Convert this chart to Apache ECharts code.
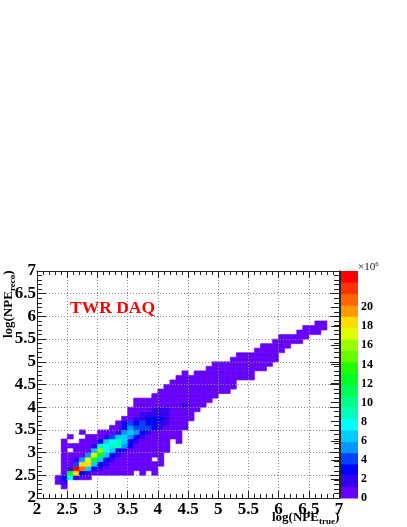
<!DOCTYPE html>
<html>
<head>
<meta charset="utf-8">
<title>TWR DAQ</title>
<script src="https://cdn.jsdelivr.net/npm/echarts@6/dist/echarts.min.js"></script>
<style>
  html, body { margin: 0; padding: 0; background: #fff; }
  #main { width: 407px; height: 527px; }
</style>
</head>
<body>
<div id="main"></div>
<script>
// occupied bins: reco bin, first and last true bin (0.1 wide bins starting at log = 2)
var lowReco = [2, 3, 4, 5, 5, 5, 6, 7, 8, 8, 9, 10, 10, 11, 12, 12, 12, 13, 13, 14, 14, 15, 16, 17, 18, 19, 20, 21, 22, 23, 24, 25, 26, 27, 27, 28, 29, 30, 31, 32, 33, 34, 35, 36, 37, 38];
var lowFrom = [4, 3, 3, 4, 17, 19, 4, 4, 4, 20, 4, 4, 6, 4, 4, 7, 23, 5, 8, 7, 10, 12, 13, 14, 15, 15, 16, 16, 19, 20, 21, 22, 23, 24, 26, 28, 29, 32, 33, 36, 37, 39, 40, 43, 44, 46];
var lowTo = [4, 4, 8, 15, 17, 19, 19, 20, 18, 20, 20, 4, 21, 21, 4, 21, 23, 5, 23, 7, 23, 24, 24, 25, 25, 26, 27, 28, 29, 31, 32, 32, 35, 24, 35, 37, 38, 39, 39, 40, 41, 43, 44, 46, 47, 47];
var lowValue = 0.4;

// bins above the floor, in millions of entries
var hotReco = [3, 4, 5, 6, 7, 8, 9, 10, 11, 12, 13, 14, 15, 16, 17, 18, 19, 20];
var hotStart = [3, 4, 5, 5, 6, 6, 8, 9, 9, 10, 11, 13, 14, 14, 16, 17, 19, 24];
var hotValues = [
  [0.8, 1.5],
  [3.5, 8, 1.5],
  [12.5, 18, 3, 1.5],
  [1.5, 23, 20.8, 6.5, 3, 1.5],
  [4, 18, 18, 6.5, 3, 1.5],
  [1.5, 5.5, 17, 12.5, 6.5, 3, 2],
  [5.5, 17, 12.5, 7, 3, 1.5],
  [7, 15.5, 8, 6, 3, 1.5],
  [2, 9, 8, 9, 9, 5, 3],
  [3, 6.5, 8, 9.5, 6, 3, 1.5],
  [1.5, 4, 6.5, 7, 5, 3, 1.5],
  [1.5, 5, 7, 5, 3, 1.5],
  [3, 5, 4, 4, 4, 3, 1.5],
  [3, 4, 3, 4, 3, 3, 2, 2],
  [1.5, 1.5, 3, 3, 3, 1.5],
  [1.5, 1.5, 1.5, 1.5, 1.5],
  [1.5, 1.5, 1.5],
  [1.8]
];

var zTicks = [0, 2, 4, 6, 8, 10, 12, 14, 16, 18, 20, 22];
var zMax = 23.8;
var palette = ['#6600ff', '#3300ee', '#0000ff', '#0044ff', '#0099ff', '#00ccff', '#00ffff', '#00ffbb', '#00ff88', '#00ff55',
  '#00ff22', '#22ff00', '#66ff00', '#99ff00', '#ddff00', '#ffdd00', '#ff9900', '#ff6600', '#ff3300', '#ff0000'];

var binSize = 0.1;
var cells = {};

function binEdge(bin) {
  return (20 + bin) / 10;
}

lowReco.forEach(function (j, k) {
  for (var i = lowFrom[k]; i <= lowTo[k]; i++) {
    cells[i + '_' + j] = [binEdge(i), binEdge(j), lowValue];
  }
});
hotReco.forEach(function (j, k) {
  hotValues[k].forEach(function (v, n) {
    var i = hotStart[k] + n;
    cells[i + '_' + j] = [binEdge(i), binEdge(j), v];
  });
});

function bandColor(v) {
  var idx = Math.floor(v / zMax * palette.length);
  return palette[Math.min(idx, palette.length - 1)];
}

var serif = '"Liberation Serif", "Times New Roman", serif';

function renderCell(params, api) {
  var x = api.value(0);
  var y = api.value(1);
  var p0 = api.coord([x, y]);
  var p1 = api.coord([x + binSize, y + binSize]);
  var c = bandColor(api.value(2));
  return {
    type: 'rect',
    shape: { x: p0[0], y: p1[1], width: p1[0] - p0[0], height: p0[1] - p1[1] },
    // thin stroke so neighbouring cells do not leave seams
    style: { fill: c, stroke: c, lineWidth: 0.6 }
  };
}

function renderBand(params, api) {
  var p0 = api.coord([0, api.value(0)]);
  var p1 = api.coord([1, api.value(1)]);
  return {
    type: 'rect',
    shape: { x: p0[0], y: p1[1], width: p1[0] - p0[0], height: p0[1] - p1[1] + 0.5 },
    style: { fill: api.value(2) }
  };
}

var bandData = palette.map(function (c, k) {
  return [k * zMax / palette.length, (k + 1) * zMax / palette.length, c];
});

var dotted = { show: true, lineStyle: { color: '#888', type: [1, 2], width: 1 } };
var darkLine = { show: true, onZero: false, lineStyle: { color: '#222', width: 1 } };

function plotAxis(position, isLabelled, tickLen, minorLen) {
  return {
    type: 'value',
    position: position,
    min: 2,
    max: 7,
    interval: 0.5,
    z: 6,
    axisLine: darkLine,
    axisTick: { show: true, inside: true, length: tickLen, lineStyle: { color: '#222' } },
    minorTick: { show: true, splitNumber: 5, length: minorLen, lineStyle: { color: '#222' } },
    splitLine: isLabelled ? dotted : { show: false },
    axisLabel: {
      show: isLabelled,
      margin: position === 'left' ? 1 : 3,
      color: '#000',
      fontFamily: serif,
      fontWeight: 'bold',
      fontSize: 17,
      hideOverlap: false,
      formatter: function (v) { return String(v); }
    }
  };
}

var chart = echarts.init(document.getElementById('main'), null, { renderer: 'canvas' });

var option = {
  backgroundColor: '#fff',
  animation: false,
  grid: [
    { left: 37, top: 271, width: 302, height: 227 },
    { left: 340, top: 271, width: 18, height: 227 }
  ],
  xAxis: [
    plotAxis('bottom', true, 7, 4),
    plotAxis('top', false, 7, 4),
    { type: 'value', gridIndex: 1, min: 0, max: 1, show: false }
  ],
  yAxis: [
    plotAxis('left', true, 9, 5),
    plotAxis('right', false, 9, 5),
    {
      type: 'value',
      gridIndex: 1,
      position: 'right',
      min: 0,
      max: zMax,
      interval: 2,
      z: 6,
      splitLine: { show: false },
      axisLine: { show: true, lineStyle: { color: '#222', width: 1 } },
      axisTick: { show: true, inside: true, length: 9, lineStyle: { color: '#222' } },
      axisLabel: {
        margin: 3,
        color: '#000',
        fontFamily: serif,
        fontWeight: 'bold',
        fontSize: 12,
        showMaxLabel: false,
        customValues: zTicks
      }
    }
  ],
  series: [
    {
      type: 'custom',
      name: 'counts',
      xAxisIndex: 0,
      yAxisIndex: 0,
      z: 2,
      silent: true,
      renderItem: renderCell,
      encode: { x: 0, y: 1 },
      data: Object.keys(cells).map(function (k) { return cells[k]; })
    },
    {
      type: 'custom',
      name: 'palette',
      xAxisIndex: 2,
      yAxisIndex: 2,
      z: 2,
      silent: true,
      renderItem: renderBand,
      data: bandData
    }
  ],
  graphic: [
    {
      type: 'text',
      left: 70,
      top: 299,
      z: 10,
      style: { text: 'TWR DAQ', fill: '#ff0000', font: 'bold 17.5px ' + serif }
    },
    {
      type: 'text',
      x: 272,
      y: 510,
      z: 10,
      style: {
        text: '{m|log(NPE}{s|true}{m|)}',
        rich: {
          m: { fontFamily: serif, fontWeight: 'bold', fontSize: 13, fill: '#000', height: 16 },
          s: { fontFamily: serif, fontWeight: 'bold', fontSize: 9, fill: '#000', padding: [7, 0, 0, 0] }
        }
      }
    },
    {
      type: 'text',
      x: 1,
      y: 338,
      rotation: Math.PI / 2,
      z: 10,
      style: {
        text: '{m|log(NPE}{s|reco}{m|)}',
        rich: {
          m: { fontFamily: serif, fontWeight: 'bold', fontSize: 13, fill: '#000', height: 16 },
          s: { fontFamily: serif, fontWeight: 'bold', fontSize: 9, fill: '#000', padding: [7, 0, 0, 0] }
        }
      }
    },
    {
      type: 'text',
      x: 358,
      y: 261,
      z: 10,
      style: {
        text: '{m|\u00d710}{e|6}',
        rich: {
          m: { fontFamily: serif, fontSize: 11, fill: '#222' },
          e: { fontFamily: serif, fontSize: 7, fill: '#222', padding: [0, 0, 6, 0] }
        }
      }
    }
  ]
};

chart.setOption(option);
</script>
</body>
</html>
